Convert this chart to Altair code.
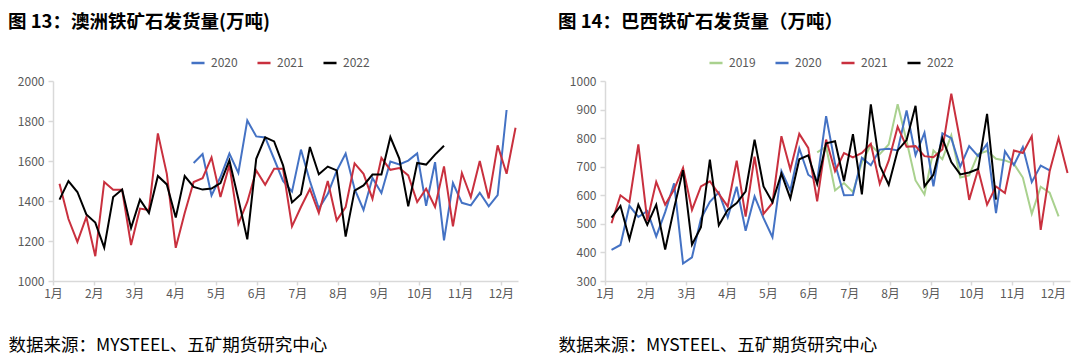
import altair as alt
import pandas as pd

# weekly positions on a month axis (1 = 1月)
MONTH0 = 1.16
STEP = 0.2196

MONTHS = list(range(1, 13))
FOOTER = "数据来源：MYSTEEL、五矿期货研究中心"
FONT = "Noto Sans CJK SC"

# ---------------- 图13 澳洲 ----------------
au_years = ["2020", "2021", "2022"]
au_colors = ["#4472C4", "#C9303E", "#000000"]
au_2020_start = 15
au_2020 = [1590, 1635, 1428, 1520, 1637, 1540, 1803, 1723, 1718, 1610, 1500, 1447,
           1657, 1500, 1362, 1435, 1550, 1637, 1460, 1355, 1515, 1440, 1597, 1583,
           1602, 1638, 1376, 1594, 1203, 1490, 1391, 1378, 1441, 1373, 1430, 1855]
au_2021_start = 0
au_2021 = [1486, 1310, 1196, 1320, 1124, 1495, 1456, 1456, 1180, 1362, 1355, 1738,
           1536, 1166, 1340, 1495, 1514, 1618, 1420, 1580, 1286, 1395, 1553, 1481,
           1561, 1561, 1273, 1370, 1460, 1340, 1500, 1303, 1370, 1588, 1536, 1411,
           1616, 1556, 1565, 1528, 1395, 1461, 1370, 1573, 1273, 1540, 1420, 1600,
           1413, 1678, 1536, 1766]
au_2022_start = 0
au_2022 = [1407, 1500, 1445, 1333, 1292, 1167, 1420, 1457, 1265, 1407, 1340, 1525,
           1483, 1317, 1525, 1470, 1457, 1462, 1490, 1603, 1410, 1208, 1611, 1718,
           1698, 1578, 1393, 1434, 1670, 1534, 1572, 1553, 1222, 1452, 1478, 1532,
           1532, 1720, 1612, 1373, 1590, 1582, 1632, 1676]
au_ticks = [1000, 1200, 1400, 1600, 1800, 2000]

# ---------------- 图14 巴西 ----------------
br_years = ["2019", "2020", "2021", "2022"]
br_colors = ["#A9D18E", "#4472C4", "#C9303E", "#000000"]
br_2019_start = 23
br_2019 = [750, 770, 617, 643, 611, 715, 776, 744, 778, 919, 790, 652, 603, 757,
           726, 810, 662, 670, 744, 755, 728, 722, 710, 662, 535, 630, 609, 526]
br_2020_start = 0
br_2020 = [409, 426, 563, 524, 545, 456, 541, 642, 361, 383, 518, 577, 610, 523,
           630, 476, 596, 520, 453, 685, 617, 764, 672, 650, 877, 710, 600, 601,
           731, 705, 760, 763, 757, 897, 740, 819, 631, 817, 800, 700, 772, 737,
           780, 538, 754, 706, 769, 646, 704, 687]
br_2021_start = 0
br_2021 = [502, 600, 576, 778, 511, 647, 567, 620, 696, 549, 631, 649, 605, 561,
           721, 525, 735, 535, 573, 807, 690, 815, 766, 579, 795, 684, 748, 733,
           748, 780, 640, 721, 840, 770, 772, 737, 733, 760, 956, 789, 584, 690,
           567, 631, 608, 757, 748, 807, 479, 684, 801, 678]
br_2022_start = 0
br_2022 = [522, 563, 446, 567, 497, 567, 410, 555, 688, 427, 488, 725, 495, 549,
           573, 614, 795, 631, 576, 676, 589, 726, 740, 640, 782, 789, 650, 814,
           603, 918, 704, 637, 757, 793, 913, 631, 672, 800, 716, 673, 680, 692,
           885, 585]
br_ticks = [300, 400, 500, 600, 700, 800, 900, 1000]


def frame(series):
    rows = []
    for year, start, vals in series:
        for k, v in enumerate(vals):
            rows.append({"year": year, "x": MONTH0 + (start + k) * STEP, "value": v})
    return pd.DataFrame(rows)


au_df = frame([("2020", au_2020_start, au_2020),
               ("2021", au_2021_start, au_2021),
               ("2022", au_2022_start, au_2022)])
br_df = frame([("2019", br_2019_start, br_2019),
               ("2020", br_2020_start, br_2020),
               ("2021", br_2021_start, br_2021),
               ("2022", br_2022_start, br_2022)])

AXIS_GREY = "#D9D9D9"
LABEL_GREY = "#595959"


def panel(df, years, colors, ticks, title, legend_x, title_x):
    return alt.Chart(df, title=alt.TitleParams(
        text=title, anchor="start", fontSize=18.5, fontWeight="bold",
        font=FONT, color="#000000", offset=24)).mark_line(strokeWidth=2).encode(
        x=alt.X("x:Q",
                scale=alt.Scale(domain=[1, 12.42], nice=False, zero=False),
                axis=alt.Axis(values=MONTHS, labelExpr="datum.value + '月'",
                              labelFlush=False,
                              title=FOOTER, titleFont=FONT, titleFontSize=17.5,
                              titleFontWeight="normal", titleColor="#000000",
                              titleX=title_x, titleY=69, titleAlign="left",
                              titleBaseline="alphabetic",
                              domainColor=AXIS_GREY, domainWidth=1.5,
                              tickColor=AXIS_GREY, tickSize=4, tickWidth=1.5,
                              labelColor=LABEL_GREY, labelFont=FONT,
                              labelFontSize=12, labelPadding=3, grid=False)),
        y=alt.Y("value:Q",
                scale=alt.Scale(domain=[ticks[0], ticks[-1]], nice=False, zero=False),
                axis=alt.Axis(values=ticks, title=None, format="d",
                              labelFlush=False,
                              domainColor=AXIS_GREY, domainWidth=1.5,
                              tickColor=AXIS_GREY, tickSize=5, tickWidth=1.5,
                              labelColor=LABEL_GREY, labelFont=FONT,
                              labelFontSize=12, labelPadding=4, grid=False)),
        color=alt.Color("year:N",
                        scale=alt.Scale(domain=years, range=colors),
                        legend=alt.Legend(title=None, orient="none",
                                          legendX=legend_x, legendY=-26,
                                          direction="horizontal",
                                          symbolType="stroke", symbolSize=170,
                                          symbolStrokeWidth=2.5,
                                          labelFont=FONT, labelFontSize=12,
                                          labelColor=LABEL_GREY, labelOffset=5,
                                          columnPadding=14)),
    ).properties(width=465, height=200)


left = panel(au_df, au_years, au_colors, au_ticks,
             "图 13：澳洲铁矿石发货量(万吨)", 137, -45)
right = panel(br_df, br_years, br_colors, br_ticks,
              "图 14：巴西铁矿石发货量（万吨）", 103, -47)

chart = alt.hconcat(left, right, spacing=38).resolve_scale(
    color="independent", x="independent", y="independent"
).properties(padding={"top": 4, "bottom": 8, "left": 0, "right": 0}
).configure_view(stroke=None)

chart.save("out.html", embed_options={"renderer": "svg", "actions": False})
